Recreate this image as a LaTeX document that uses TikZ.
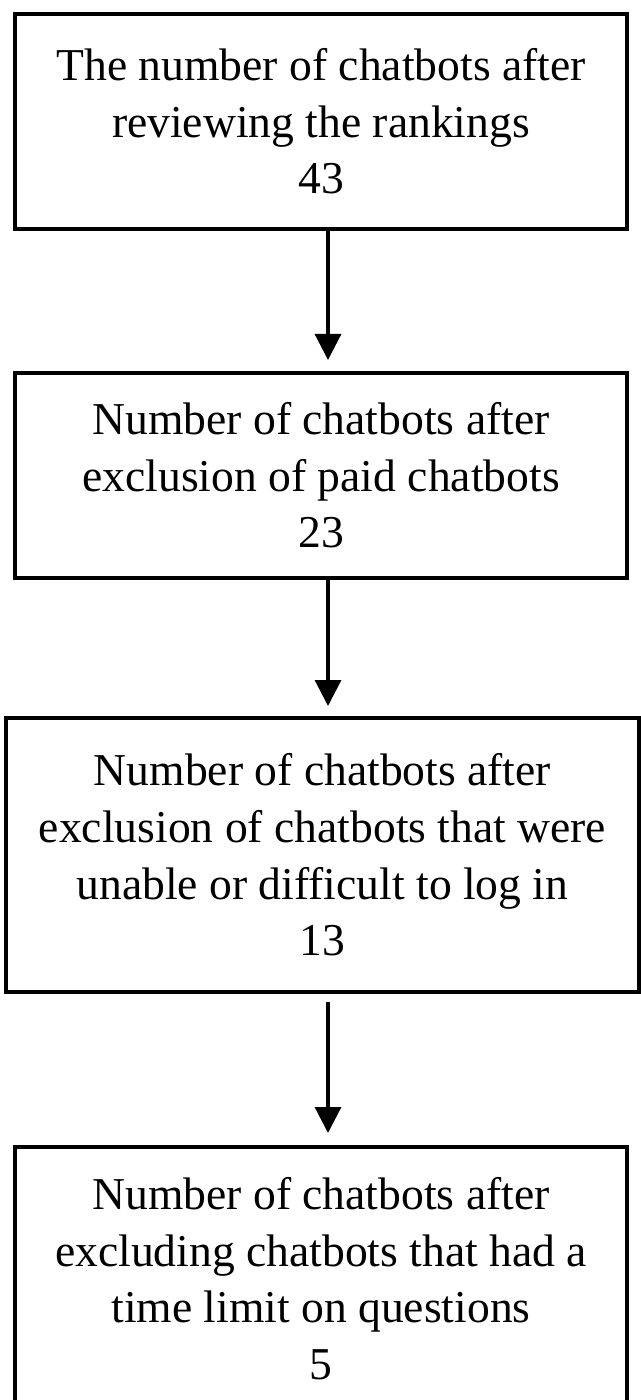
\documentclass[tikz,border=0pt]{standalone}
\usepackage{fontspec}
\setmainfont{Liberation Serif}
\usetikzlibrary{arrows.meta}
\tikzset{
  >={Triangle[length=13pt,width=13pt]},
  stagebox/.style={draw, line width=2pt, align=center, inner sep=0pt,
    font=\fontsize{22.8pt}{28.3pt}\selectfont},
  flowarrow/.style={->, line width=1.6pt},
}

\begin{document}
\begin{tikzpicture}[x=0.5pt, y=-0.5pt]
      \useasboundingbox (0,0) rectangle (641,1400);
      % boxes of the selection steps
      \node[stagebox, minimum width=306pt, minimum height=107.5pt] (ranked) at (321,121.5)
        {The number of chatbots after\\reviewing the rankings\\43};
      \node[stagebox, minimum width=306pt, minimum height=102.5pt] (unpaid) at (321,475.5)
        {Number of chatbots after\\exclusion of paid chatbots\\23};
      \node[stagebox, minimum width=316.5pt, minimum height=137pt] (login) at (322.5,855)
        {Number of chatbots after\\exclusion of chatbots that were\\unable or difficult to log in\\13};
      \node[stagebox, minimum width=306pt, minimum height=131.5pt] (timelimit) at (321,1278.5)
        {Number of chatbots after\\excluding chatbots that had a\\time limit on questions\\5};
      % arrows between the steps
      \draw[flowarrow, shorten >=5.5pt] (ranked.south -| 328,0) -- (unpaid.north -| 328,0);
      \draw[flowarrow, shorten >=5pt] (unpaid.south -| 328,0) -- (login.north -| 328,0);
      \draw[flowarrow, shorten <=4pt, shorten >=6pt] (login.south -| 328,0) -- (timelimit.north -| 328,0);
    \end{tikzpicture}
\end{document}
